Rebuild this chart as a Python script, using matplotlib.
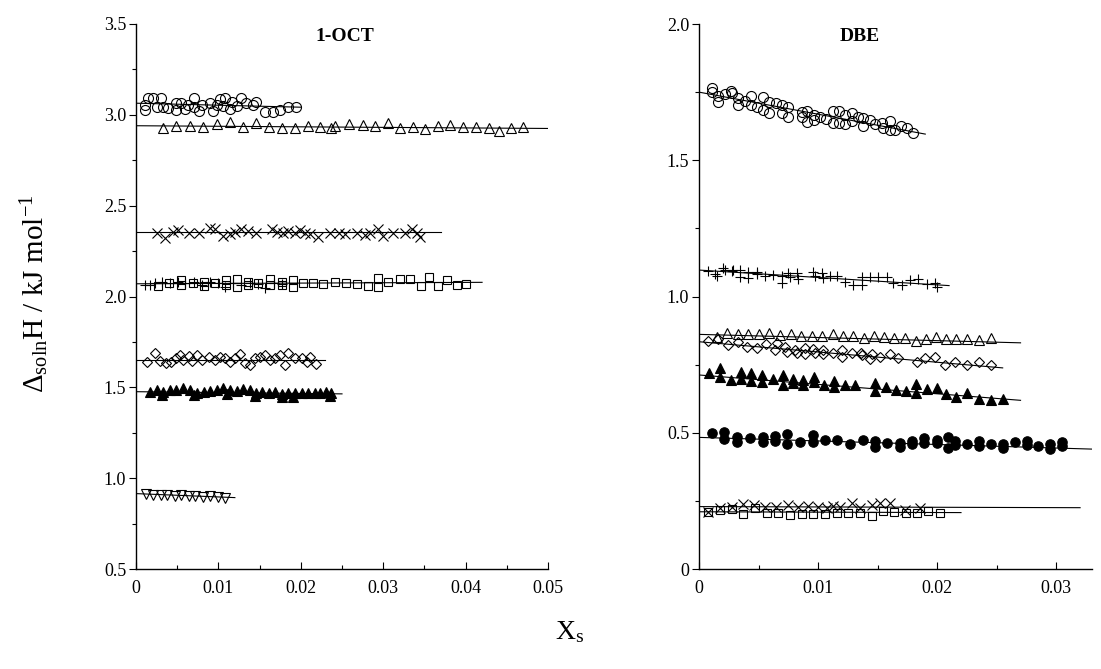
import matplotlib
matplotlib.use("Agg")
import matplotlib.pyplot as plt
from matplotlib.ticker import MultipleLocator, FuncFormatter

plt.rcParams['font.family'] = ['Liberation Serif', 'DejaVu Serif']
plt.rcParams['mathtext.fontset'] = 'custom'
plt.rcParams['mathtext.rm'] = 'Liberation Serif'
plt.rcParams['mathtext.it'] = 'Liberation Serif:italic'

# ---------------- 1-OCT panel data ----------------
oct_circ_x = [0.0011,0.0011,0.0015,0.0021,0.0030,0.0025,0.0033,0.0039,0.0049,0.0049,0.0055,0.0059,0.0063,0.0070,0.0070,0.0076,0.0080,0.0090,0.0094,0.0098,0.0102,0.0108,0.0106,0.0114,0.0116,0.0122,0.0128,0.0134,0.0142,0.0146,0.0157,0.0166,0.0175,0.0185,0.0194]
oct_circ_y = [3.054,3.027,3.091,3.091,3.091,3.045,3.045,3.039,3.064,3.027,3.067,3.031,3.054,3.091,3.045,3.021,3.054,3.064,3.021,3.054,3.086,3.091,3.049,3.031,3.072,3.049,3.091,3.064,3.054,3.072,3.014,3.014,3.027,3.045,3.045]
oct_circ_fit = ([0.0, 0.020], [3.064, 3.042])

oct_tri_x = [0.0033,0.0049,0.0065,0.0081,0.0098,0.0114,0.0130,0.0146,0.0161,0.0177,0.0193,0.0209,0.0223,0.0237,0.0241,0.0259,0.0275,0.0290,0.0306,0.0320,0.0336,0.0351,0.0366,0.0381,0.0397,0.0413,0.0428,0.0440,0.0455,0.0470]
oct_tri_y = [2.926,2.939,2.939,2.935,2.948,2.962,2.935,2.953,2.935,2.926,2.930,2.939,2.935,2.926,2.939,2.948,2.944,2.939,2.953,2.930,2.935,2.920,2.940,2.945,2.935,2.935,2.930,2.910,2.925,2.935]
oct_tri_fit = ([0.0, 0.050], [2.940, 2.925])

oct_x_x = [0.0025,0.0035,0.0045,0.0051,0.0064,0.0076,0.0090,0.0096,0.0106,0.0114,0.0120,0.0128,0.0136,0.0146,0.0165,0.0171,0.0179,0.0185,0.0193,0.0199,0.0205,0.0211,0.0221,0.0235,0.0246,0.0254,0.0268,0.0278,0.0284,0.0294,0.0300,0.0312,0.0326,0.0335,0.0341,0.0345]
oct_x_y = [2.348,2.321,2.357,2.366,2.352,2.352,2.376,2.370,2.334,2.344,2.357,2.370,2.362,2.352,2.370,2.357,2.348,2.362,2.348,2.366,2.352,2.344,2.329,2.348,2.352,2.344,2.348,2.339,2.352,2.370,2.334,2.352,2.352,2.370,2.348,2.326]
oct_x_fit = ([0.0, 0.037], [2.354, 2.354])

oct_plus_x = [0.0011,0.0017,0.0023,0.0031,0.0041,0.0051,0.0059,0.0070,0.0080,0.0090,0.0100,0.0108,0.0118,0.0128,0.0138,0.0148,0.0157,0.0167,0.0177]
oct_plus_y = [2.064,2.064,2.073,2.082,2.073,2.082,2.073,2.082,2.064,2.082,2.076,2.054,2.073,2.064,2.073,2.069,2.045,2.073,2.069]

oct_sq_x = [0.0027,0.0040,0.0055,0.0055,0.0069,0.0082,0.0082,0.0096,0.0109,0.0109,0.0122,0.0122,0.0136,0.0136,0.0148,0.0163,0.0163,0.0177,0.0177,0.0190,0.0190,0.0203,0.0215,0.0227,0.0242,0.0255,0.0268,0.0282,0.0294,0.0294,0.0306,0.0320,0.0333,0.0346,0.0355,0.0366,0.0378,0.0389,0.0400]
oct_sq_y = [2.058,2.073,2.091,2.064,2.076,2.058,2.082,2.073,2.091,2.064,2.095,2.054,2.082,2.064,2.076,2.095,2.064,2.082,2.064,2.091,2.054,2.073,2.076,2.069,2.082,2.076,2.069,2.058,2.100,2.054,2.082,2.095,2.095,2.058,2.106,2.060,2.090,2.065,2.070]
oct_sq_fit = ([0.0, 0.042], [2.070, 2.078])

oct_dia_x = [0.0013,0.0023,0.0029,0.0037,0.0043,0.0049,0.0053,0.0057,0.0064,0.0068,0.0074,0.0080,0.0088,0.0096,0.0102,0.0108,0.0114,0.0120,0.0126,0.0132,0.0138,0.0144,0.0150,0.0157,0.0163,0.0169,0.0175,0.0181,0.0185,0.0193,0.0201,0.0207,0.0211,0.0219]
oct_dia_y = [1.642,1.688,1.647,1.633,1.642,1.660,1.678,1.651,1.673,1.647,1.678,1.651,1.669,1.651,1.669,1.660,1.642,1.660,1.684,1.633,1.624,1.660,1.669,1.678,1.651,1.660,1.678,1.624,1.688,1.660,1.660,1.642,1.666,1.629]
oct_dia_fit = ([0.0, 0.0229], [1.651, 1.651])

oct_ftri_x = [0.0017,0.0025,0.0031,0.0033,0.0041,0.0049,0.0057,0.0066,0.0070,0.0074,0.0082,0.0090,0.0098,0.0106,0.0110,0.0114,0.0122,0.0130,0.0138,0.0144,0.0146,0.0153,0.0161,0.0169,0.0177,0.0177,0.0185,0.0191,0.0193,0.0201,0.0209,0.0217,0.0223,0.0231,0.0235,0.0237]
oct_ftri_y = [1.476,1.486,1.458,1.476,1.486,1.486,1.495,1.486,1.458,1.467,1.476,1.482,1.486,1.495,1.464,1.486,1.482,1.489,1.486,1.453,1.467,1.476,1.467,1.476,1.464,1.449,1.467,1.449,1.471,1.467,1.471,1.471,1.467,1.476,1.453,1.467]
oct_ftri_fit = ([0.0, 0.0250], [1.476, 1.464])

oct_dtri_x = [0.0012,0.0021,0.0030,0.0038,0.0047,0.0055,0.0064,0.0072,0.0081,0.0090,0.0099,0.0108]
oct_dtri_y = [0.915,0.910,0.905,0.910,0.900,0.905,0.900,0.900,0.895,0.900,0.895,0.890]
oct_dtri_fit = ([0.0, 0.012], [0.915, 0.893])

# ---------------- DBE panel data ----------------
dbe_circ_x = [0.00107,0.00107,0.00163,0.00163,0.00218,0.00266,0.00275,0.00331,0.00331,0.00387,0.00434,0.00434,0.00485,0.00535,0.00535,0.00591,0.00591,0.00647,0.00695,0.00695,0.00751,0.00751,0.00863,0.00863,0.00910,0.00910,0.00966,0.00966,0.01017,0.01067,0.01123,0.01123,0.01179,0.01179,0.01227,0.01227,0.01283,0.01283,0.01339,0.01381,0.01381,0.01437,0.01479,0.01535,0.01549,0.01605,0.01605,0.01647,0.01695,0.01745,0.01796]
dbe_circ_y = [1.764,1.752,1.736,1.715,1.743,1.755,1.748,1.727,1.703,1.719,1.736,1.703,1.694,1.733,1.684,1.715,1.672,1.709,1.703,1.672,1.697,1.660,1.678,1.658,1.682,1.641,1.666,1.648,1.660,1.650,1.682,1.636,1.682,1.636,1.666,1.633,1.672,1.645,1.660,1.654,1.626,1.648,1.633,1.636,1.617,1.645,1.611,1.611,1.626,1.617,1.599]
dbe_circ_fit = ([0.0, 0.0190], [1.750, 1.596])

dbe_plus_x = [0.00078,0.00134,0.00149,0.00204,0.00218,0.00275,0.00289,0.00345,0.00345,0.00415,0.00415,0.00485,0.00485,0.00555,0.00625,0.00695,0.00695,0.00751,0.00765,0.00821,0.00835,0.00961,0.00975,0.01031,0.01045,0.01101,0.01157,0.01227,0.01297,0.01367,0.01367,0.01437,0.01507,0.01577,0.01633,0.01703,0.01773,0.01843,0.01913,0.01983,0.01997]
dbe_plus_y = [1.095,1.083,1.075,1.103,1.097,1.095,1.097,1.097,1.073,1.091,1.067,1.091,1.083,1.075,1.079,1.075,1.051,1.087,1.070,1.085,1.063,1.091,1.075,1.085,1.067,1.075,1.075,1.055,1.042,1.042,1.070,1.073,1.070,1.070,1.051,1.042,1.061,1.063,1.046,1.048,1.034]
dbe_plus_fit = ([0.0, 0.0210], [1.097, 1.040])

dbe_tri_x = [0.00149,0.00238,0.00325,0.00415,0.00504,0.00591,0.00681,0.00771,0.00857,0.00947,0.01036,0.01123,0.01213,0.01297,0.01387,0.01473,0.01557,0.01641,0.01731,0.01821,0.01905,0.01992,0.02076,0.0216,0.0225,0.0235,0.0245]
dbe_tri_y = [0.852,0.865,0.861,0.861,0.861,0.865,0.859,0.861,0.855,0.855,0.855,0.861,0.855,0.855,0.849,0.855,0.852,0.847,0.849,0.838,0.844,0.850,0.843,0.843,0.845,0.840,0.848]
dbe_tri_fit = ([0.0, 0.027], [0.861, 0.830])

dbe_dia_x = [0.00078,0.00163,0.00247,0.00331,0.00401,0.00485,0.00563,0.00639,0.00653,0.00723,0.00737,0.00807,0.00821,0.00891,0.00891,0.00961,0.00975,0.01045,0.01045,0.01129,0.01199,0.01199,0.01283,0.01359,0.01367,0.01437,0.01451,0.01521,0.01605,0.01675,0.01829,0.01899,0.01983,0.02067,0.0215,0.0225,0.0235,0.0245]
dbe_dia_y = [0.838,0.843,0.822,0.834,0.814,0.810,0.826,0.804,0.828,0.814,0.797,0.804,0.792,0.810,0.789,0.806,0.792,0.804,0.789,0.792,0.804,0.777,0.794,0.794,0.785,0.770,0.789,0.779,0.788,0.773,0.761,0.773,0.779,0.749,0.760,0.750,0.758,0.750]
dbe_dia_fit = ([0.0, 0.0255], [0.834, 0.738])

dbe_ftri_x = [0.00087,0.00176,0.00176,0.00266,0.00353,0.00353,0.00437,0.00437,0.00527,0.00527,0.00619,0.00703,0.00709,0.00793,0.00793,0.00877,0.00877,0.00966,0.00966,0.01050,0.01134,0.01134,0.01227,0.01311,0.01479,0.01479,0.01569,0.01655,0.01739,0.01824,0.01824,0.01913,0.01997,0.02076,0.0216,0.0225,0.0235,0.0245,0.0255]
dbe_ftri_y = [0.720,0.737,0.703,0.693,0.724,0.696,0.718,0.690,0.712,0.687,0.696,0.712,0.675,0.696,0.681,0.693,0.675,0.703,0.687,0.675,0.691,0.667,0.675,0.675,0.681,0.654,0.667,0.657,0.654,0.679,0.647,0.659,0.663,0.642,0.630,0.645,0.625,0.620,0.625]
dbe_ftri_fit = ([0.0, 0.027], [0.712, 0.619])

dbe_fcirc_x = [0.00107,0.00213,0.00213,0.00322,0.00322,0.00429,0.00535,0.00535,0.00639,0.00639,0.00742,0.00742,0.00849,0.00955,0.00955,0.01059,0.01162,0.01269,0.01376,0.01479,0.01479,0.01582,0.01689,0.01689,0.01787,0.01787,0.01891,0.01891,0.01997,0.01997,0.02095,0.02095,0.0215,0.0215,0.0225,0.0235,0.0235,0.0245,0.0255,0.0255,0.0265,0.0275,0.0275,0.0285,0.0295,0.0295,0.0305,0.0305]
dbe_fcirc_y = [0.500,0.504,0.476,0.483,0.467,0.480,0.483,0.467,0.488,0.471,0.495,0.459,0.467,0.492,0.467,0.473,0.473,0.459,0.473,0.471,0.449,0.464,0.461,0.446,0.471,0.459,0.480,0.461,0.473,0.461,0.483,0.443,0.455,0.470,0.460,0.450,0.468,0.458,0.460,0.445,0.465,0.455,0.470,0.450,0.440,0.460,0.465,0.450]
dbe_fcirc_fit = ([0.0, 0.033], [0.483, 0.440])

dbe_x_x = [0.00078,0.00176,0.00275,0.00373,0.00462,0.00555,0.00647,0.00751,0.00835,0.00919,0.01003,0.01073,0.01129,0.01185,0.01283,0.01353,0.01451,0.01521,0.01605,0.01731,0.01857]
dbe_x_y = [0.210,0.223,0.229,0.239,0.235,0.229,0.226,0.235,0.226,0.231,0.226,0.223,0.231,0.226,0.241,0.223,0.235,0.243,0.243,0.217,0.223]
dbe_x_fit = ([0.0, 0.032], [0.229, 0.225])

dbe_sq_x = [0.00078,0.00176,0.00275,0.00373,0.00471,0.00569,0.00667,0.00765,0.00863,0.00961,0.01059,0.01157,0.01255,0.01353,0.01451,0.01544,0.01639,0.01739,0.01829,0.01927,0.02020]
dbe_sq_y = [0.210,0.217,0.219,0.202,0.223,0.207,0.204,0.198,0.202,0.202,0.202,0.207,0.207,0.207,0.194,0.214,0.210,0.207,0.204,0.214,0.207]
dbe_sq_fit = ([0.0, 0.022], [0.210, 0.207])

x_label = 'X$_{\\mathrm{s}}$'
y_label = 'Δ$_{\\mathrm{soln}}$H / kJ mol$^{-1}$'

W, H = 1101, 669
fig = plt.figure(figsize=(W / 100, H / 100), dpi=100)
ax1 = fig.add_axes([136 / W, (H - 569) / H, 412 / W, 545 / H])
ax2 = fig.add_axes([699 / W, (H - 569) / H, 393 / W, 545 / H])

def pts(ax, x, y, marker, ms, filled=False):
    ax.plot(x, y, ls='none', marker=marker, ms=ms,
            mfc='black' if filled else 'none', mec='black', mew=0.8)

def fit(ax, f):
    ax.plot(f[0], f[1], color='black', lw=0.8)

# 1-OCT
for f in [oct_circ_fit, oct_tri_fit, oct_x_fit, oct_sq_fit, oct_dia_fit, oct_ftri_fit, oct_dtri_fit]:
    fit(ax1, f)
pts(ax1, oct_circ_x, oct_circ_y, 'o', 7.2)
pts(ax1, oct_tri_x, oct_tri_y, '^', 7.8)
pts(ax1, oct_x_x, oct_x_y, 'x', 7.0)
pts(ax1, oct_plus_x, oct_plus_y, '+', 7.5)
pts(ax1, oct_sq_x, oct_sq_y, 's', 6.2)
pts(ax1, oct_dia_x, oct_dia_y, 'D', 5.6)
pts(ax1, oct_ftri_x, oct_ftri_y, '^', 7.8, filled=True)
pts(ax1, oct_dtri_x, oct_dtri_y, 'v', 7.5)

# DBE
for f in [dbe_circ_fit, dbe_plus_fit, dbe_tri_fit, dbe_dia_fit, dbe_ftri_fit, dbe_fcirc_fit, dbe_x_fit, dbe_sq_fit]:
    fit(ax2, f)
pts(ax2, dbe_circ_x, dbe_circ_y, 'o', 7.2)
pts(ax2, dbe_plus_x, dbe_plus_y, '+', 7.5)
pts(ax2, dbe_tri_x, dbe_tri_y, '^', 7.8)
pts(ax2, dbe_dia_x, dbe_dia_y, 'D', 5.6)
pts(ax2, dbe_ftri_x, dbe_ftri_y, '^', 7.8, filled=True)
pts(ax2, dbe_fcirc_x, dbe_fcirc_y, 'o', 6.8, filled=True)
pts(ax2, dbe_x_x, dbe_x_y, 'x', 7.0)
pts(ax2, dbe_sq_x, dbe_sq_y, 's', 6.2)

def fmt(v, pos):
    s = ('%.3f' % v).rstrip('0').rstrip('.')
    return '0' if abs(v) < 1e-12 else s

def yfmt(v, pos):
    return '0' if abs(v) < 1e-12 else '%.1f' % v

for ax, xlim, ylim in [(ax1, (0, 0.05), (0.5, 3.5)), (ax2, (0, 0.033), (0, 2.0))]:
    ax.set_xlim(*xlim)
    ax.set_ylim(*ylim)
    for s in ['top', 'right']:
        ax.spines[s].set_visible(False)
    for s in ['left', 'bottom']:
        ax.spines[s].set_linewidth(1.0)
    ax.xaxis.set_major_locator(MultipleLocator(0.01))
    ax.xaxis.set_minor_locator(MultipleLocator(0.005))
    ax.yaxis.set_major_locator(MultipleLocator(0.5))
    ax.yaxis.set_minor_locator(MultipleLocator(0.25))
    ax.xaxis.set_major_formatter(FuncFormatter(fmt))
    ax.yaxis.set_major_formatter(FuncFormatter(yfmt))
    ax.tick_params(axis='x', which='major', direction='in', length=5, width=0.8, labelsize=13, pad=8)
    ax.tick_params(axis='x', which='minor', direction='in', length=3, width=0.8)
    ax.tick_params(axis='y', which='major', direction='out', length=5, width=0.8, labelsize=13, pad=2)
    ax.tick_params(axis='y', which='minor', direction='out', length=3, width=0.8)

ax1.text(0.0253, 3.43, '1-OCT', ha='center', va='center', fontsize=14, fontweight='bold')
ax2.text(0.0135, 1.955, 'DBE', ha='center', va='center', fontsize=14, fontweight='bold')

fig.text(35 / W, 1 - 294 / H, y_label, rotation=90, ha='center', va='center', fontsize=21)
fig.text(570 / W, 1 - 632 / H, x_label, ha='center', va='center', fontsize=20)

fig.savefig('out.png', dpi=100)
